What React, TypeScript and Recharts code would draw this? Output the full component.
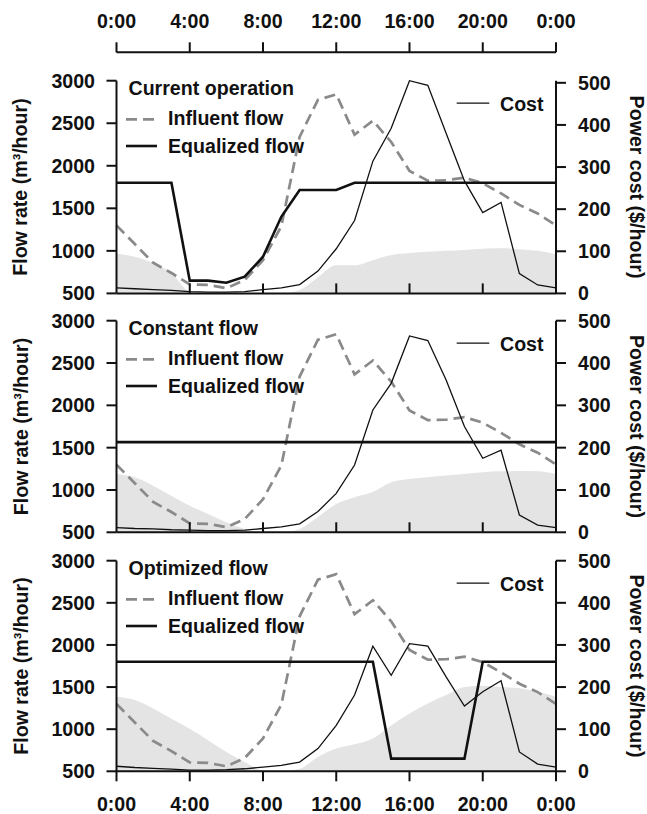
import React from 'react';
import { ComposedChart, Line, Area, XAxis, YAxis, Legend } from 'recharts';

// ---------- data ----------
const hours = [0, 1, 2, 3, 4, 5, 6, 7, 8, 9, 10, 11, 12, 13, 14, 15, 16, 17, 18, 19, 20, 21, 22, 23, 24];
const hourTicks = [0, 4, 8, 12, 16, 20, 24];
const flowTicks = [500, 1000, 1500, 2000, 2500, 3000];
const costTicks = [0, 100, 200, 300, 400, 500];

const influentFlow = [1300, 1080, 860, 740, 605, 600, 560, 657, 890, 1290, 2340, 2775, 2840, 2365, 2530, 2280, 1940, 1825, 1830, 1860, 1795, 1675, 1540, 1440, 1300];

const equalizedCurrent = [1800, 1800, 1800, 1800, 650, 650, 626, 696, 931, 1400, 1715, 1715, 1715, 1800, 1800, 1800, 1800, 1800, 1800, 1800, 1800, 1800, 1800, 1800, 1800];
const equalizedConstant = [1565, 1565, 1565, 1565, 1565, 1565, 1565, 1565, 1565, 1565, 1565, 1565, 1565, 1565, 1565, 1565, 1565, 1565, 1565, 1565, 1565, 1565, 1565, 1565, 1565];
const equalizedOptimized = [1800, 1800, 1800, 1800, 1800, 1800, 1800, 1800, 1800, 1800, 1800, 1800, 1800, 1800, 1800, 650, 650, 650, 650, 650, 1800, 1800, 1800, 1800, 1800];

const costCurrent = [13, 11, 9, 7, 4, 3, 3, 4, 9, 13, 21, 53, 106, 173, 314, 392, 505, 494, 380, 267, 192, 216, 47, 20, 13];
const costConstant = [11, 9, 8, 6, 5, 4, 4, 5, 9, 13, 20, 49, 92, 159, 289, 352, 464, 453, 360, 250, 175, 194, 41, 17, 11];
const costOptimized = [12, 9, 7, 5, 3, 3, 4, 6, 10, 14, 22, 54, 109, 181, 297, 228, 303, 297, 224, 155, 189, 215, 46, 17, 10];

const storageCurrent = [970, 930, 855, 740, 520, 500, 500, 500, 500, 500, 540, 690, 830, 830, 890, 950, 975, 990, 1000, 1010, 1025, 1030, 1020, 1000, 960];
const storageConstant = [1190, 1150, 1050, 930, 815, 715, 620, 540, 500, 500, 540, 680, 835, 915, 975, 1090, 1130, 1150, 1170, 1190, 1210, 1220, 1225, 1220, 1190];
const storageOptimized = [1385, 1345, 1245, 1125, 1005, 870, 730, 610, 510, 500, 530, 670, 770, 820, 890, 1045, 1185, 1305, 1405, 1500, 1515, 1500, 1485, 1445, 1385];

const panelTitles = ['Current operation', 'Constant flow', 'Optimized flow'];
const legendNames = { influent: 'Influent flow', equalized: 'Equalized flow', cost: 'Cost' };
const leftAxisTitle = 'Flow rate (m\u00B3/hour)';
const rightAxisTitle = 'Power cost ($/hour)';

// ---------- layout / style ----------
const W = 647;
const H = 814;
const PLOT_LEFT = 116.5;
const PLOT_RIGHT = 556;
const HOUR_DOMAIN = [0, 24];
const FONT = '"Liberation Sans", Arial, Helvetica, sans-serif';
const INK = '#111';
const GRAY = '#8a8a8a';
const FILL = '#e4e4e4';

const fmtHour = (h: number) => `${h % 24}:00`;
const hourToX = (h: number) =>
  PLOT_LEFT + ((h - HOUR_DOMAIN[0]) / (HOUR_DOMAIN[1] - HOUR_DOMAIN[0])) * (PLOT_RIGHT - PLOT_LEFT);

const textStyle = { fontFamily: FONT, fontWeight: 'bold' as const, fontSize: 19.6, fill: INK };

function LeftTick(props: any) {
  const { x, y, payload } = props;
  return (
    <text x={x} y={y} dy={7} textAnchor="end" {...textStyle}>
      {payload.value}
    </text>
  );
}
function RightTick(props: any) {
  const { x, y, payload } = props;
  return (
    <text x={x} y={y} dy={7} textAnchor="start" {...textStyle}>
      {payload.value}
    </text>
  );
}
function BottomTick(props: any) {
  const { x, y, payload } = props;
  return (
    <text x={x} y={y} dy={13.8} textAnchor="middle" {...textStyle}>
      {fmtHour(payload.value)}
    </text>
  );
}
function TopTick(props: any) {
  const { x, y, payload } = props;
  return (
    <text x={x} y={y} textAnchor="middle" {...textStyle}>
      {fmtHour(payload.value)}
    </text>
  );
}

function LeftTitle(props: any) {
  const vb = props.viewBox || {};
  const cx = (vb.x || 0) + 27.5;
  const cy = (vb.y || 0) + (vb.height || 0) / 2;
  return (
    <text x={cx} y={cy} transform={`rotate(-90 ${cx} ${cy})`} textAnchor="middle" {...textStyle}>
      {leftAxisTitle}
    </text>
  );
}
function RightTitle(props: any) {
  const vb = props.viewBox || {};
  const cx = (vb.x || 0) + 73.5;
  const cy = (vb.y || 0) + (vb.height || 0) / 2;
  return (
    <text x={cx} y={cy} transform={`rotate(90 ${cx} ${cy})`} textAnchor="middle" {...textStyle}>
      {rightAxisTitle}
    </text>
  );
}

function makeLegend(title: string, top: number, bottom: number, innerTicks: boolean) {
  return function PanelLegend(props: any) {
    const payload = props.payload || [];
    const nameOf = (key: string, fallback: string) => {
      const item = payload.find((p: any) => p.dataKey === key);
      return item && item.value ? item.value : fallback;
    };
    return (
      <svg width={W} height={H} style={{ display: 'block', overflow: 'visible' }}>
        {innerTicks &&
          hourTicks.slice(1, -1).map((t) => (
            <line key={`it-${t}`} x1={hourToX(t)} x2={hourToX(t)} y1={bottom} y2={bottom - 10} stroke={INK} strokeWidth={2} />
          ))}
        <text x={128.5} y={top + 14.3} {...textStyle}>{title}</text>
        <line x1={126} x2={157} y1={top + 38.6} y2={top + 38.6} stroke={GRAY} strokeWidth={2.7} strokeDasharray="11 6" />
        <text x={168} y={top + 43.8} {...textStyle}>{nameOf('influent', legendNames.influent)}</text>
        <line x1={126} x2={157} y1={top + 65.3} y2={top + 65.3} stroke={INK} strokeWidth={2.6} />
        <text x={168} y={top + 72} {...textStyle}>{nameOf('equalized', legendNames.equalized)}</text>
        <line x1={456.7} x2={489.3} y1={top + 22.5} y2={top + 22.5} stroke={INK} strokeWidth={1.3} />
        <text x={500} y={top + 30} {...textStyle}>{nameOf('cost', legendNames.cost)}</text>
      </svg>
    );
  };
}

type PanelProps = {
  title: string;
  top: number;
  bottom: number;
  equalized: number[];
  cost: number[];
  storage: number[];
  last: boolean;
};

function Panel({ title, top, bottom, equalized, cost, storage, last }: PanelProps) {
  const rows = hours.map((h, i) => ({
    h,
    influent: influentFlow[i],
    equalized: equalized[i],
    cost: cost[i],
    storage: storage[i],
  }));
  const xAxisHeight = 40;
  const LegendContent = makeLegend(title, top, bottom, !last);
  return (
    <div style={{ position: 'absolute', left: 0, top: 0, width: W, height: H }}>
      <ComposedChart
        width={W}
        height={H}
        data={rows}
        margin={{ top, bottom: H - bottom - xAxisHeight, left: 0, right: 0 }}
      >
        <XAxis
          dataKey="h"
          type="number"
          domain={HOUR_DOMAIN}
          ticks={hourTicks}
          interval={0}
          height={xAxisHeight}
          axisLine={{ stroke: INK, strokeWidth: 2 }}
          tickLine={last ? { stroke: INK, strokeWidth: 2 } : false}
          tickSize={10}
          tickMargin={16}
          tick={last ? BottomTick : false}
        />
        <YAxis
          yAxisId="flow"
          type="number"
          domain={[500, 3000]}
          ticks={flowTicks}
          interval={0}
          width={PLOT_LEFT}
          axisLine={{ stroke: INK, strokeWidth: 2 }}
          tickLine={{ stroke: INK, strokeWidth: 2 }}
          tickSize={10}
          tickMargin={11.5}
          tick={LeftTick}
          label={{ content: LeftTitle }}
        />
        <YAxis
          yAxisId="cost"
          orientation="right"
          type="number"
          domain={[0, 500]}
          ticks={costTicks}
          interval={0}
          width={W - PLOT_RIGHT}
          axisLine={{ stroke: INK, strokeWidth: 2 }}
          tickLine={{ stroke: INK, strokeWidth: 2 }}
          tickSize={10}
          tickMargin={12}
          tick={RightTick}
          label={{ content: RightTitle }}
        />
        <Area
          yAxisId="flow"
          type="monotone"
          dataKey="storage"
          stroke="none"
          fill={FILL}
          fillOpacity={1}
          legendType="none"
          isAnimationActive={false}
        />
        <Line
          yAxisId="flow"
          type="linear"
          dataKey="influent"
          name={legendNames.influent}
          stroke={GRAY}
          strokeWidth={2.7}
          strokeDasharray="11 6"
          dot={false}
          activeDot={false}
          isAnimationActive={false}
        />
        <Line
          yAxisId="cost"
          type="linear"
          dataKey="cost"
          name={legendNames.cost}
          stroke={INK}
          strokeWidth={1.3}
          dot={false}
          activeDot={false}
          isAnimationActive={false}
        />
        <Line
          yAxisId="flow"
          type="linear"
          dataKey="equalized"
          name={legendNames.equalized}
          stroke={INK}
          strokeWidth={2.6}
          dot={false}
          activeDot={false}
          isAnimationActive={false}
        />
        <Legend
          layout="horizontal"
          verticalAlign="middle"
          align="center"
          content={LegendContent}
          wrapperStyle={{ left: 0, top: 0, width: W, height: H, pointerEvents: 'none' }}
        />
      </ComposedChart>
    </div>
  );
}

function TopAxis() {
  const rows = hours.map((h, i) => ({ h, influent: influentFlow[i] }));
  return (
    <div style={{ position: 'absolute', left: 0, top: 0, width: W, height: 70 }}>
      <ComposedChart
        width={W}
        height={70}
        data={rows}
        margin={{ top: 22.3, bottom: 5, left: PLOT_LEFT, right: W - PLOT_RIGHT }}
      >
        <XAxis
          dataKey="h"
          type="number"
          orientation="top"
          domain={HOUR_DOMAIN}
          ticks={hourTicks}
          interval={0}
          height={30}
          axisLine={{ stroke: INK, strokeWidth: 2 }}
          tickLine={{ stroke: INK, strokeWidth: 2 }}
          tickSize={10}
          tickMargin={14}
          tick={TopTick}
        />
        <YAxis hide domain={[0, 5000]} />
        <Line
          dataKey="influent"
          stroke="transparent"
          strokeWidth={0}
          dot={false}
          activeDot={false}
          legendType="none"
          isAnimationActive={false}
        />
      </ComposedChart>
    </div>
  );
}

export default function App() {
  return (
    <div style={{ position: 'absolute', left: 0, top: 0, width: W, height: H, background: '#fff' }}>
      <TopAxis />
      <Panel title={panelTitles[0]} top={80.7} bottom={293.4} equalized={equalizedCurrent} cost={costCurrent} storage={storageCurrent} last={false} />
      <Panel title={panelTitles[1]} top={320.7} bottom={532.3} equalized={equalizedConstant} cost={costConstant} storage={storageConstant} last={false} />
      <Panel title={panelTitles[2]} top={560.7} bottom={771.3} equalized={equalizedOptimized} cost={costOptimized} storage={storageOptimized} last={true} />
    </div>
  );
}
